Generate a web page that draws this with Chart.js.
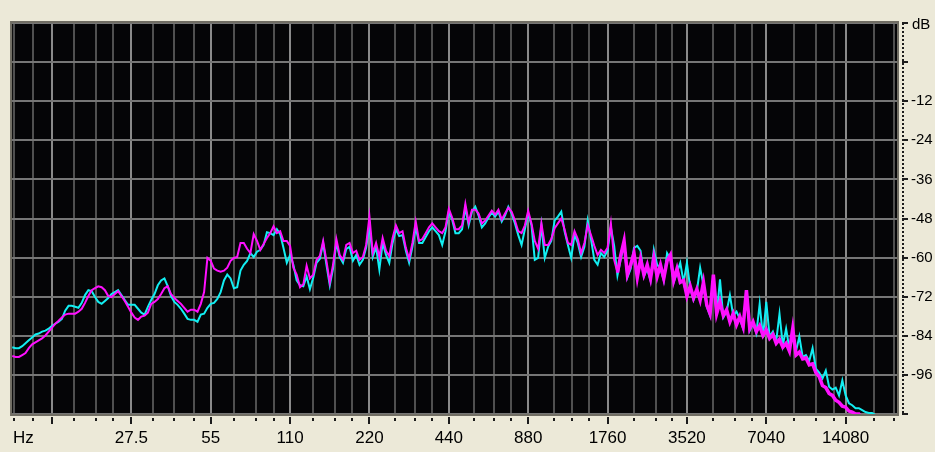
<!DOCTYPE html>
<html>
<head>
<meta charset="utf-8">
<script src="https://cdn.jsdelivr.net/npm/chart.js@4.4.1/dist/chart.umd.min.js"></script>
<style>
  html, body { margin: 0; padding: 0; background: #ece9d8; overflow: hidden; }
  #wrap { width: 935px; height: 452px; position: relative; }
  canvas { display: block; }
</style>
</head>
<body>
<div id="wrap"><canvas id="spectrum" width="935" height="452"></canvas></div>
<script>
// Analysis frequencies (Hz), 1/24-octave bins
const FREQ_HZ = [
  9.72, 10.01, 10.30, 10.60, 10.91, 11.23, 11.56, 11.90, 12.25, 12.61, 12.98, 13.36,
  13.75, 14.15, 14.57, 14.99, 15.43, 15.89, 16.35, 16.83, 17.32, 17.83, 18.35, 18.89, 19.45, 20.02, 20.60, 21.21, 21.83, 22.47, 23.12, 23.80, 24.50, 25.22, 25.96, 26.72,
  27.5, 28.31, 29.14, 29.99, 30.87, 31.77, 32.70, 33.66, 34.65, 35.66, 36.71, 37.79, 38.89, 40.03, 41.20, 42.41, 43.65, 44.93, 46.25, 47.61, 49.00, 50.44, 51.91, 53.44,
  55, 56.61, 58.27, 59.98, 61.74, 63.55, 65.41, 67.33, 69.30, 71.33, 73.42, 75.57, 77.78, 80.06, 82.41, 84.82, 87.31, 89.87, 92.50, 95.21, 98.00, 100.9, 103.8, 106.9,
  110, 113.2, 116.5, 120.0, 123.5, 127.1, 130.8, 134.7, 138.6, 142.7, 146.8, 151.1, 155.6, 160.1, 164.8, 169.6, 174.6, 179.7, 185.0, 190.4, 196.0, 201.7, 207.7, 213.7,
  220, 226.4, 233.1, 239.9, 246.9, 254.2, 261.6, 269.3, 277.2, 285.3, 293.7, 302.3, 311.1, 320.2, 329.6, 339.3, 349.2, 359.5, 370.0, 380.8, 392.0, 403.5, 415.3, 427.5,
  440, 452.9, 466.2, 479.8, 493.9, 508.4, 523.3, 538.6, 554.4, 570.6, 587.3, 604.5, 622.3, 640.5, 659.3, 678.6, 698.5, 718.9, 740.0, 761.7, 784.0, 807.0, 830.6, 855.0,
  880, 905.8, 932.3, 959.7, 987.8, 1017, 1047, 1077, 1109, 1141, 1175, 1209, 1245, 1281, 1319, 1357, 1397, 1438, 1480, 1523, 1568, 1614, 1661, 1710,
  1760, 1812, 1865, 1919, 1976, 2033, 2093, 2154, 2217, 2282, 2349, 2418, 2489, 2562, 2637, 2714, 2794, 2876, 2960, 3047, 3136, 3228, 3322, 3420,
  3520, 3623, 3729, 3839, 3951, 4067, 4186, 4309, 4435, 4565, 4699, 4837, 4978, 5124, 5274, 5429, 5588, 5751, 5920, 6093, 6272, 6456, 6645, 6840,
  7040, 7246, 7459, 7677, 7902, 8134, 8372, 8617, 8870, 9130, 9397, 9673, 9956, 10248, 10548, 10857, 11175, 11503, 11840, 12187, 12544, 12912, 13290, 13680,
  14080, 14493, 14917, 15354, 15804, 16268, 16744, 17235, 17740, 18260, 18795, 19346
];

// Right channel level (dB), drawn in magenta
const MAGENTA_DB = [
  -90.2, -90.5, -90.5, -89.9, -89.3, -87.8, -86.6, -86.0, -85.4, -84.8, -83.9, -82.7,
  -81.5, -80.3, -79.4, -78.4, -77.5, -77.2, -77.2, -77.2, -76.6, -75.7, -73.9, -71.8, -70.0, -69.4, -68.8, -69.1, -70.0, -71.8, -72.1, -71.2, -70.3, -71.8, -73.3, -75.1,
  -76.9, -78.4, -79.1, -78.1, -77.8, -76.9, -74.2, -73.6, -72.7, -71.2, -69.4, -68.8, -71.2, -72.4, -73.3, -74.2, -75.4, -76.6, -76.0, -76.0, -76.6, -74.2, -70.6, -60.1,
  -61.0, -63.4, -64.0, -64.3, -64.0, -63.1, -61.0, -60.1, -59.8, -55.5, -55.5, -57.3, -58.6, -52.8, -54.9, -57.6, -55.8, -54.0, -52.5, -50.4, -52.5, -51.9, -54.9, -54.9,
  -56.4, -63.1, -65.2, -69.1, -68.2, -62.5, -66.4, -65.2, -60.7, -59.5, -54.9, -61.0, -67.6, -62.2, -54.3, -59.2, -60.7, -56.1, -55.5, -58.6, -57.9, -60.7, -59.8, -56.1,
  -47.4, -58.6, -55.5, -59.8, -54.0, -57.9, -59.5, -54.0, -50.1, -52.5, -51.9, -57.0, -60.4, -55.5, -48.9, -54.9, -54.3, -52.5, -50.7, -49.5, -50.7, -51.9, -52.5, -50.7,
  -45.0, -47.7, -51.3, -51.3, -50.1, -43.5, -49.2, -45.3, -45.3, -46.5, -49.5, -48.6, -47.1, -45.6, -46.8, -45.3, -48.3, -46.5, -44.7, -45.9, -48.6, -51.9, -52.5, -50.1,
  -45.6, -49.5, -54.9, -57.3, -49.5, -56.1, -56.1, -54.3, -51.0, -49.5, -48.0, -51.3, -55.5, -56.1, -51.9, -54.3, -58.6, -55.5, -50.1, -53.1, -56.4, -59.2, -57.6, -58.6,
  -57.0, -49.5, -60.7, -64.6, -59.2, -54.9, -65.2, -62.2, -58.6, -66.1, -60.4, -65.2, -62.2, -66.4, -60.1, -65.8, -62.2, -66.4, -61.0, -59.2, -67.0, -63.4, -67.6, -67.0,
  -71.8, -68.8, -72.4, -69.7, -73.0, -67.6, -74.5, -77.2, -65.2, -77.2, -73.6, -77.8, -76.0, -79.7, -77.2, -80.6, -78.1, -81.2, -70.0, -81.8, -79.7, -82.7, -80.9, -83.9,
  -82.1, -84.8, -83.6, -86.3, -85.1, -87.5, -86.3, -88.7, -81.8, -89.9, -89.0, -91.1, -90.8, -92.9, -92.6, -95.3, -96.5, -99.3, -99.9, -101.7, -102.3, -103.8, -104.4, -105.6,
  -105.9, -107.1, -107.4, -108.0, -108.0, -109.5, -111.6, -113.4, -115.2, -117.0, -118.8, -120.7
];

// Left channel level (dB), drawn in cyan
const CYAN_DB = [
  -87.5, -87.8, -87.8, -87.2, -86.3, -85.4, -84.5, -83.6, -83.3, -82.7, -82.4, -81.8,
  -80.9, -80.3, -79.7, -78.8, -76.3, -74.8, -74.8, -75.1, -75.4, -73.9, -71.5, -70.0, -70.3, -72.1, -73.6, -74.2, -73.3, -72.4, -71.2, -70.6, -70.0, -71.5, -73.0, -74.5,
  -74.5, -74.5, -75.7, -76.9, -77.5, -75.1, -73.0, -71.2, -68.5, -67.0, -66.4, -68.8, -71.8, -73.6, -74.5, -75.7, -77.2, -78.8, -79.1, -79.1, -79.7, -77.5, -77.2, -75.4,
  -74.2, -73.9, -72.7, -70.6, -67.0, -65.2, -66.4, -69.4, -69.1, -64.0, -62.2, -61.0, -58.6, -59.8, -58.2, -57.6, -56.1, -52.2, -52.5, -53.1, -51.3, -52.8, -57.0, -61.6,
  -59.2, -62.2, -67.0, -68.5, -68.8, -65.8, -69.7, -66.1, -61.6, -60.4, -55.5, -62.2, -68.5, -63.4, -55.5, -59.8, -61.6, -57.3, -56.7, -61.0, -59.2, -62.2, -60.7, -57.0,
  -50.1, -59.8, -56.7, -63.7, -55.5, -59.2, -61.6, -55.5, -51.3, -53.4, -53.1, -57.9, -61.6, -56.7, -50.7, -55.5, -55.5, -53.7, -51.9, -50.7, -51.9, -53.1, -56.1, -51.9,
  -45.9, -48.3, -52.5, -52.5, -51.3, -44.7, -50.1, -45.9, -44.4, -47.1, -50.7, -49.5, -47.7, -46.2, -47.4, -45.9, -48.9, -47.1, -44.4, -46.5, -49.5, -53.1, -56.1, -51.3,
  -46.5, -50.1, -60.7, -60.1, -50.1, -60.1, -56.7, -54.9, -48.6, -47.4, -45.9, -51.9, -56.1, -60.1, -53.1, -55.5, -59.8, -56.7, -48.6, -54.3, -60.7, -62.2, -58.6, -59.8,
  -57.9, -50.7, -56.4, -65.5, -60.4, -56.1, -66.1, -63.4, -57.0, -56.4, -57.9, -65.8, -63.4, -67.0, -57.6, -62.2, -63.4, -67.0, -58.6, -60.4, -67.6, -64.6, -61.6, -67.6,
  -61.6, -69.4, -73.0, -70.3, -63.1, -68.5, -75.1, -77.8, -66.4, -77.8, -66.7, -78.4, -76.6, -71.5, -77.8, -76.6, -78.8, -81.8, -71.2, -82.4, -80.3, -83.3, -74.2, -84.5,
  -73.6, -84.2, -82.7, -85.7, -77.2, -86.9, -81.8, -88.1, -82.7, -88.7, -84.2, -90.5, -89.9, -91.7, -87.8, -94.1, -95.3, -97.1, -94.7, -99.6, -100.5, -99.9, -102.3, -97.7,
  -102.3, -104.7, -105.3, -106.2, -106.2, -106.8, -107.4, -107.7, -107.7, -108.3, -110.4, -112.8
];

// Octave grid lines with their labels (13.75 Hz carries no label)
const OCTAVE_HZ = [13.75, 27.5, 55, 110, 220, 440, 880, 1760, 3520, 7040, 14080];
const OCTAVE_LABELS = ['', '27.5', '55', '110', '220', '440', '880', '1760', '3520', '7040', '14080'];
// Intermediate grid lines inside each octave
const MINOR_HZ = [9.87, 11.64, 16.65, 20.18, 23.40, 33.18, 39.84, 47.44, 67.2, 81.4, 95.3,
  134.0, 162.3, 188.3, 273.9, 326.1, 381.5, 550.6, 655.6, 760.3, 1106, 1294, 1501,
  2224, 2694, 3098, 4428, 5364, 6223, 8980, 10880, 12731, 18038, 21475];

// Level axis
const DB_TICKS = [12, 0, -12, -24, -36, -48, -60, -72, -84, -96, -108];
const DB_LABELS = ['', '', '-12', '-24', '-36', '-48', '-60', '-72', '-84', '-96', ''];

const X_MIN = 9.7, X_MAX = 22050;
// above this frequency the dense harmonics of the right channel form a heavier band
const DENSE_FROM_HZ = 1900;

function toPoints(values) {
  const n = Math.min(FREQ_HZ.length, values.length);
  const out = [];
  for (let i = 0; i < n; i++) out.push({ x: FREQ_HZ[i], y: values[i] });
  return out;
}

const ALL_GRID_HZ = OCTAVE_HZ.concat(MINOR_HZ).sort((a, b) => a - b);

const panelPlugin = {
  id: 'panel',
  beforeDraw(chart) {
    const { ctx, chartArea: a } = chart;
    ctx.save();
    ctx.fillStyle = '#ece9d8';
    ctx.fillRect(0, 0, chart.width, chart.height);
    ctx.fillStyle = '#050507';
    ctx.fillRect(a.left, a.top, a.right - a.left, a.bottom - a.top);
    ctx.restore();
  },
  afterDraw(chart) {
    const { ctx, chartArea: a, scales } = chart;
    const xs = scales.x, ys = scales.y;
    ctx.save();
    // sunken frame around the plot
    ctx.strokeStyle = '#716e64';
    ctx.lineWidth = 2;
    ctx.strokeRect(a.left - 1, a.top - 1, a.right - a.left + 2, a.bottom - a.top + 2);

    // frequency tick marks under the plot
    ctx.fillStyle = '#1c1c1c';
    MINOR_HZ.forEach(f => {
      const px = Math.round(xs.getPixelForValue(f));
      ctx.fillRect(px - 1, a.bottom + 4, 2, 3);
    });
    OCTAVE_HZ.forEach(f => {
      const px = Math.round(xs.getPixelForValue(f));
      ctx.fillRect(px - 1, a.bottom + 3, 2, 7);
    });

    // dotted level axis on the right
    const ax = Math.round(a.right) + 5;
    for (let yy = Math.round(a.top); yy <= a.bottom; yy += 4) ctx.fillRect(ax, yy, 2, 2);
    DB_TICKS.forEach(v => {
      const py = Math.round(ys.getPixelForValue(v));
      ctx.fillRect(ax, py - 1, 6, 2);
    });

    // unit captions
    ctx.fillStyle = '#000';
    ctx.textBaseline = 'middle';
    ctx.textAlign = 'left';
    ctx.font = '17px "Liberation Sans", Arial, sans-serif';
    ctx.fillText('Hz', 13, 438);
    ctx.font = '15px "Liberation Sans", Arial, sans-serif';
    ctx.fillText('dB', 912, 25);
    ctx.restore();
  }
};

new Chart(document.getElementById('spectrum'), {
  type: 'line',
  data: {
    datasets: [
      {
        label: 'R',
        data: toPoints(MAGENTA_DB),
        borderColor: '#ff10ff',
        borderWidth: 2,
        pointRadius: 0,
        tension: 0,
        fill: false,
        segment: { borderWidth: c => (c.p0.parsed.x >= DENSE_FROM_HZ ? 3.5 : 2) }
      },
      {
        label: 'L',
        data: toPoints(CYAN_DB),
        borderColor: '#12eef2',
        borderWidth: 2,
        pointRadius: 0,
        tension: 0,
        fill: false
      }
    ]
  },
  options: {
    responsive: false,
    animation: false,
    events: [],
    parsing: false,
    layout: { padding: { left: 12, top: 16, right: 0, bottom: 0 } },
    plugins: { legend: { display: false }, tooltip: { enabled: false } },
    scales: {
      x: {
        type: 'logarithmic',
        min: X_MIN,
        max: X_MAX,
        afterBuildTicks(scale) {
          scale.ticks = ALL_GRID_HZ.map(v => ({ value: v }));
        },
        afterFit(scale) { scale.height = 38; },
        border: { display: false },
        grid: {
          drawTicks: false,
          lineWidth: 2,
          color: c => (c.tick && OCTAVE_HZ.includes(c.tick.value)) ? '#8a8a8a' : '#505050'
        },
        ticks: {
          autoSkip: false,
          maxRotation: 0,
          minRotation: 0,
          padding: 14,
          color: '#000',
          font: { family: '"Liberation Sans", Arial, sans-serif', size: 17 },
          callback(value) {
            const i = OCTAVE_HZ.indexOf(value);
            return i >= 0 ? OCTAVE_LABELS[i] : '';
          }
        }
      },
      y: {
        type: 'linear',
        position: 'right',
        min: -108,
        max: 12,
        afterBuildTicks(scale) {
          scale.ticks = DB_TICKS.map(v => ({ value: v }));
        },
        afterFit(scale) { scale.width = 38; },
        border: { display: false },
        grid: { drawTicks: false, lineWidth: 2, color: '#767676' },
        ticks: {
          padding: 14,
          color: '#000',
          font: { family: '"Liberation Sans", Arial, sans-serif', size: 15 },
          callback(value) {
            const i = DB_TICKS.indexOf(value);
            return i >= 0 ? DB_LABELS[i] : '';
          }
        }
      }
    }
  },
  plugins: [panelPlugin]
});
</script>
</body>
</html>
